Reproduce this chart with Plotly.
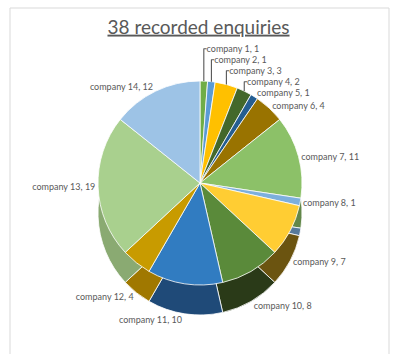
import plotly.graph_objects as go

companies = ["company 1", "company 2", "company 3", "company 4", "company 5",
             "company 6", "company 7", "company 8", "company 9", "company 10",
             "company 11", "company 12", "company 13", "company 14"]
enquiries = [1, 1, 3, 2, 1, 4, 11, 1, 7, 8, 10, 4, 19, 12]
on_side = [False, False, False, False, False, False, False, False,
           True, True, True, True, False, False]
top_colors = ["#70AD47", "#5B9BD5", "#FFC000", "#43682B", "#255E91", "#997300",
              "#8CC168", "#7CAFDD", "#FFCD33", "#5A8A3A", "#317CC1", "#C89B00",
              "#A9D08E", "#9DC3E6"]
side_colors = ["#4E7A32", "#3F6D96", "#B38600", "#2F491E", "#1A4266", "#6B5100",
               "#628749", "#577A9B", "#6B5410", "#2A3A18", "#1F4A78", "#A07800",
               "#8AAA72", "#6E899F"]
title_text = "38 recorded enquiries"

W, H = 397, 354
cx, cy, d = 200, 183, 204
depth = 30
label_font = dict(family="Lato", size=9, color="#595959")

def dom(px0, px1, py0, py1):
    return dict(x=[px0 / W, px1 / W], y=[1 - py1 / H, 1 - py0 / H])

side_tpl = ["%{label}, %{value}" if s else "" for s in on_side]
top_tpl = ["" if s else "%{label}, %{value}" for s in on_side]

fig = go.Figure()
fig.add_trace(go.Pie(
    labels=companies, values=enquiries, sort=False, direction="clockwise",
    rotation=0, marker=dict(colors=side_colors, line=dict(color="#FFFFFF", width=0.8)),
    texttemplate=side_tpl, textposition="outside", textfont=label_font,
    hoverinfo="skip", showlegend=False,
    domain=dom(cx - d / 2, cx + d / 2, cy - d / 2 + depth, cy + d / 2 + depth),
))
fig.add_trace(go.Pie(
    labels=companies, values=enquiries, sort=False, direction="clockwise",
    rotation=0, marker=dict(colors=top_colors, line=dict(color="#FFFFFF", width=0.8)),
    texttemplate=top_tpl, textposition="outside", textfont=label_font,
    showlegend=False,
    domain=dom(cx - d / 2, cx + d / 2, cy - d / 2, cy + d / 2),
))

fig.update_layout(
    width=W, height=H, margin=dict(l=0, r=0, t=0, b=0),
    paper_bgcolor="#FFFFFF", plot_bgcolor="#FFFFFF",
    title=dict(text="<u>" + title_text + "</u>", x=0.5, xanchor="center",
               y=1 - 27 / H, yanchor="middle",
               font=dict(family="Lato", size=19, color="#595959")),
    shapes=[dict(type="rect", xref="paper", yref="paper",
                 x0=10 / W, x1=389 / W, y0=-0.02, y1=1 - 8 / H,
                 line=dict(color="#D9D9D9", width=1), fillcolor="rgba(0,0,0,0)",
                 layer="below")],
)

fig.write_html("out.html")
